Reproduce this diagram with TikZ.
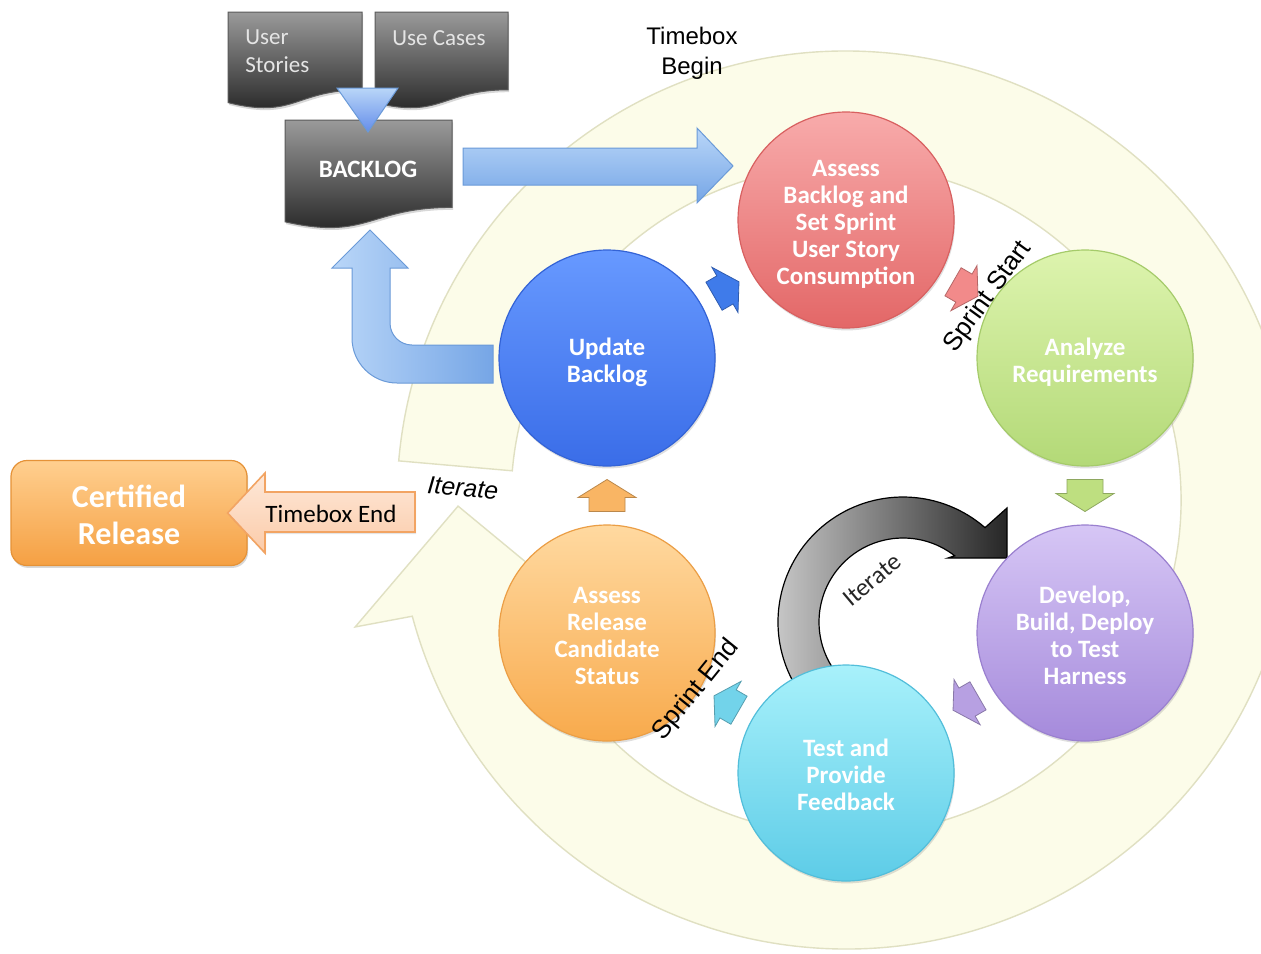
\documentclass[tikz,border=0pt]{standalone}
\usepackage{fontspec}
\setmainfont{Carlito}
\newfontfamily\arialf{Liberation Sans}
\usetikzlibrary{calc,shadows}
\definecolor{ringF}{HTML}{FCFCE9}
\definecolor{ringD}{HTML}{E0E0C2}
\definecolor{redT}{HTML}{F8ABAB}
\definecolor{redB}{HTML}{E36767}
\definecolor{redD}{HTML}{D86060}
\definecolor{grnT}{HTML}{DDF4AE}
\definecolor{grnB}{HTML}{B3D977}
\definecolor{grnD}{HTML}{A5CB6A}
\definecolor{purT}{HTML}{D6C6F5}
\definecolor{purB}{HTML}{A58ADB}
\definecolor{purD}{HTML}{9A80CF}
\definecolor{cyaT}{HTML}{A8F1FB}
\definecolor{cyaB}{HTML}{5DCCE7}
\definecolor{cyaD}{HTML}{52BEDA}
\definecolor{oraT}{HTML}{FFD9A0}
\definecolor{oraB}{HTML}{F8AA4C}
\definecolor{oraD}{HTML}{EB9E45}
\definecolor{bluT}{HTML}{6799FF}
\definecolor{bluB}{HTML}{3A6DE8}
\definecolor{bluD}{HTML}{3363D6}
\definecolor{sB}{HTML}{3F7BEA}
\definecolor{sR}{HTML}{F28A8A}
\definecolor{sG}{HTML}{BEDF80}
\definecolor{sP}{HTML}{B7A0E2}
\definecolor{sC}{HTML}{72D3EA}
\definecolor{sO}{HTML}{F9B564}
\definecolor{lbT}{HTML}{B9D6F8}
\definecolor{lbB}{HTML}{76A6E6}
\definecolor{lbD}{HTML}{6A9AD8}
\definecolor{docT}{HTML}{9A9A9A}
\definecolor{docB}{HTML}{1F1F1F}
\definecolor{docE}{HTML}{5A5A5A}
\definecolor{crT}{HTML}{FFCF8F}
\definecolor{crB}{HTML}{F5A043}
\definecolor{crD}{HTML}{E59237}
\definecolor{peT}{HTML}{FEE8D8}
\definecolor{peB}{HTML}{FBCBA9}
\definecolor{peD}{HTML}{F2A463}
\newcommand\ctab[1]{\raisebox{-2.7pt}[\height][\depth]{\begin{tabular}[b]{@{}c@{}}#1\end{tabular}}}
\newcommand\ltab[1]{\begin{tabular}[b]{@{}l@{}}#1\end{tabular}}
\tikzset{
  ball/.style={circle, minimum size=108pt, inner sep=0pt, text=white, line width=.6pt,
    font=\bfseries\fontsize{12.5}{13.5}\selectfont,
    drop shadow={opacity=.25, shadow xshift=.5pt, shadow yshift=-1.2pt}},
  pics/sarr/.style={code={\path[fill=#1, draw=#1!75!black, line width=.4pt]
    (-16,-18) -- (-2,-18) -- (-2,-29) -- (16,0) -- (-2,29) -- (-2,18) -- (-16,18) -- cycle;}},
  pics/docsh/.style 2 args={code={\path[top color=docT, bottom color=docB, draw=docE, line width=.5pt,
    drop shadow={opacity=.3, shadow xshift=.6pt, shadow yshift=-1.2pt}]
    (0,0) -- (#1,0) -- (#1,{-0.802*#2}) .. controls ({0.5*#1},{-0.802*#2}) and ({0.5*#1},{-1.107*#2}) .. (0,{-0.934*#2}) -- cycle;}},
  doct/.style={inner sep=0pt, text=black!10, font=\fontsize{11.5}{14}\selectfont},
  lbl/.style={inner sep=0pt, align=center, font=\arialf\fontsize{12}{15}\selectfont},
  sprint/.style={inner sep=0pt, font=\arialf\fontsize{13}{15}\selectfont},
  crst/.style={rectangle, rounded corners=8pt, minimum width=118pt, minimum height=52.5pt,
    top color=crT, bottom color=crB, draw=crD, line width=.6pt, text=white,
    font=\bfseries\fontsize{16}{18.5}\selectfont,
    drop shadow={opacity=.3, shadow xshift=.6pt, shadow yshift=-1.2pt}}
}
\begin{document}
\begin{tikzpicture}[x=0.5pt,y=0.5pt]
\useasboundingbox[fill=white] (0,0) rectangle (1261,-953);
% big timebox ring
\coordinate (rc) at (846,-500);
\path[fill=ringF, draw=ringD, line width=.7pt]
  ($(rc)+(175:449)$) arc[start angle=175,end angle=-165,radius=449]
  -- ($(rc)+(-165.5:507)$) -- ($(rc)+(-179.1:388)$) -- ($(rc)+(-165.5:311)$)
  -- ($(rc)+(-165:335)$) arc[start angle=-165,end angle=175,radius=335] -- cycle;
% big blue arrow backlog -> sprint
\path[top color=lbT, bottom color=lbB, draw=lbD, line width=.5pt]
  (463,-148) -- (697,-148) -- (697,-128) -- (733,-166) -- (697,-203) -- (697,-185) -- (463,-185) -- cycle;
% U-turn arrow update -> backlog
\path[left color=lbT, right color=lbB, draw=lbD, line width=.5pt]
  (493,-345) -- (412,-345) arc[start angle=-90,end angle=-180,radius=22]
  -- (390,-268) -- (408,-268) -- (370,-230) -- (332,-268) -- (352,-268) -- (352,-338)
  arc[start angle=180,end angle=270,radius=45] -- (493,-383) -- cycle;
% gray iterate arrow
\coordinate (gc) at (903,-622);
\path[left color=black!18, right color=black!85, draw=black, line width=.6pt]
  ($(gc)+(215:125)$) arc[start angle=215,end angle=49,radius=125]
  -- (1007,-508) -- (1007,-558) -- (948,-558) -- ($(gc)+(52:84)$)
  arc[start angle=52,end angle=215,radius=84] -- cycle;
% circles
\node[ball, top color=redT, bottom color=redB, draw=redD] (asb) at (846,-220)
  {\ctab{Assess\\Backlog and\\Set Sprint\\User Story\\Consumption}};
\node[ball, top color=grnT, bottom color=grnB, draw=grnD] (ana) at (1085,-358)
  {\ctab{Analyze\\Requirements}};
\node[ball, top color=purT, bottom color=purB, draw=purD] (dev) at (1085,-633)
  {\ctab{Develop,\\Build, Deploy\\to Test\\Harness}};
\node[ball, top color=cyaT, bottom color=cyaB, draw=cyaD] (tst) at (846,-773)
  {\ctab{Test and\\Provide\\Feedback}};
\node[ball, top color=oraT, bottom color=oraB, draw=oraD] (rel) at (607,-633)
  {\ctab{Assess\\Release\\Candidate\\Status}};
\node[ball, top color=bluT, bottom color=bluB, draw=bluD] (upd) at (607,-358)
  {\ctab{Update\\Backlog}};
% small arrows between circles
\pic[rotate=30, scale=.9] at ($(upd)!0.5!(asb)$) {sarr=sB};
\pic[rotate=-30, scale=.9] at ($(asb)!0.5!(ana)$) {sarr=sR};
\pic[rotate=-90] at ($(ana)!0.5!(dev)$) {sarr=sG};
\pic[rotate=210, scale=.9] at ($(dev)!0.5!(tst)$) {sarr=sP};
\pic[rotate=150, scale=.9] at ($(tst)!0.5!(rel)$) {sarr=sC};
\pic[rotate=90] at ($(rel)!0.5!(upd)$) {sarr=sO};
% documents
\pic at (228,-12) {docsh={134}{97}};
\pic at (375,-12) {docsh={133}{97}};
\pic at (285,-120) {docsh={167}{109}};
\path[top color=lbT, bottom color=lbB!85!blue, draw=lbD, line width=.5pt]
  (337,-88) -- (398,-88) -- (368,-132) -- cycle;
\node[doct, anchor=north west] (us) at (245,-24) {\ltab{User\\Stories}};
\node[doct] (uc) at (439,-34) {\ctab{Use Cases}};
\node[doct, text=white, font=\bfseries\fontsize{12.5}{15}\selectfont] (bl) at (368,-166) {\ctab{BACKLOG}};
% labels
\node[lbl] (tb) at (692,-53) {Timebox\\Begin};
\node[sprint, rotate=54] (ss) at (988,-297) {Sprint Start};
\node[sprint, rotate=51] (se) at (696,-690) {Sprint End};
\node[lbl, font=\arialf\itshape\fontsize{12.5}{15}\selectfont, rotate=-5] (it1) at (463,-488) {Iterate};
\node[inner sep=0pt, text=black!85, font=\fontsize{12.5}{15}\selectfont, rotate=40] (it2) at (872,-580) {Iterate};
% certified release
\node[crst] (cr) at (129,-513) {\ctab{Certified\\Release}};
\path[top color=peT, bottom color=peB, draw=peD, line width=.8pt,
  drop shadow={opacity=.2, shadow xshift=.5pt, shadow yshift=-1pt}]
  (415,-492) -- (265,-492) -- (265,-473) -- ($(cr.east)+(-20,0)$) -- (265,-553) -- (265,-532) -- (415,-532) -- cycle;
\node[inner sep=0pt, anchor=base, font=\fontsize{12.5}{15}\selectfont] (tbe) at (331,-522) {Timebox End};
\end{tikzpicture}
\end{document}
